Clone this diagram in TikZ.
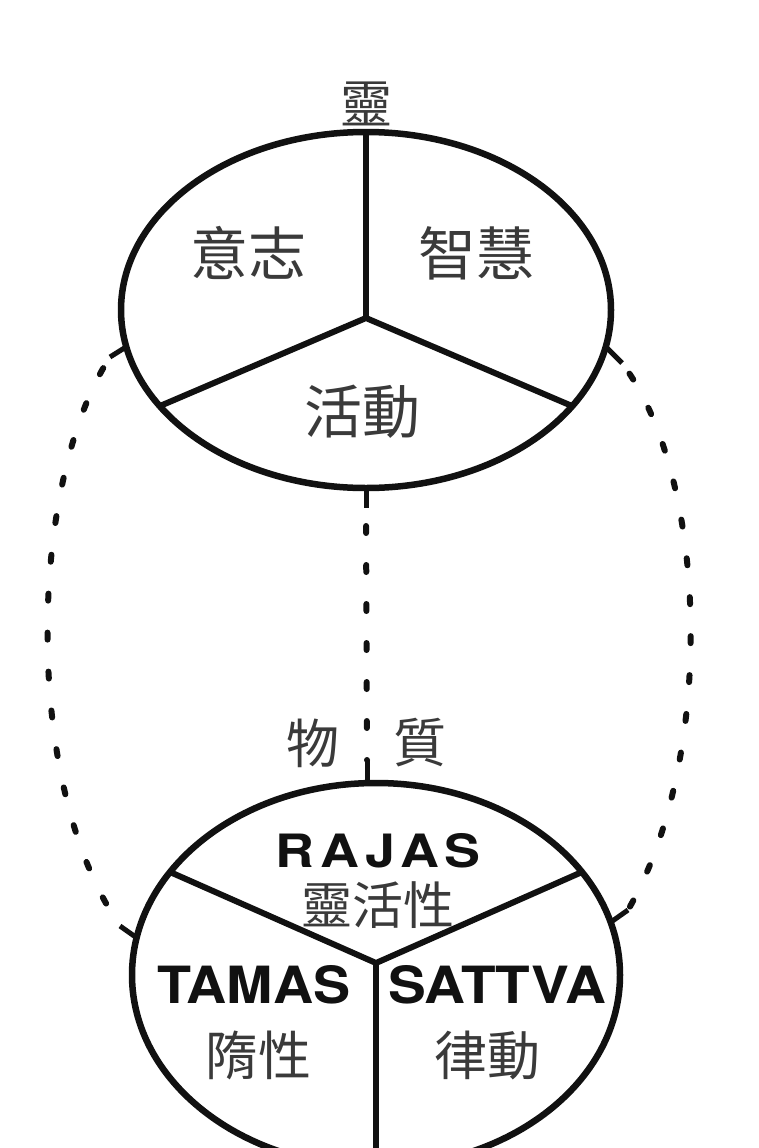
\documentclass[tikz,border=0pt]{standalone}
\usepackage{fontspec}
\usepackage{graphicx}
\newfontfamily\cjk{Noto Sans CJK TC}
\newfontfamily\lat{TeX Gyre Heros}
\definecolor{ink}{HTML}{111111}
\definecolor{txt}{HTML}{3A3A3A}
\tikzset{
  rim/.style={line width=6.5pt, draw=ink},
  spoke/.style={line width=6pt, draw=ink},
  stub/.style={line width=5pt, draw=ink},
  dots/.style={line width=6pt, draw=ink, line cap=round, dash pattern=on 7pt off 32pt},
  cjkbig/.style={font=\cjk\fontsize{58pt}{60pt}\selectfont, text=txt, inner sep=0pt},
  cjksmall/.style={font=\cjk\fontsize{53pt}{55pt}\selectfont, text=txt, inner sep=0pt},
  latin/.style={text=ink, inner sep=0pt},
}
\begin{document}
\begin{tikzpicture}[x=1pt,y=-1pt]
\useasboundingbox (0,0) rectangle (758,1148);
\clip (0,0) rectangle (758,1148);
\fill[white] (0,0) rectangle (758,1148);

% ---- upper ellipse (spirit)
\coordinate (tc) at (366,310);
\coordinate (ttop) at (366,132);
\coordinate (thub) at (366,318);
\coordinate (tleft) at (160,406);
\coordinate (tright) at (572,406);
\coordinate (tbot) at (366,488);
\draw[rim] (tc) ellipse [x radius=245, y radius=178];
\draw[spoke] (ttop) -- (thub);
\draw[spoke] (tleft) -- (thub) -- (tright);

% ---- lower ellipse (matter)
\coordinate (bc) at (376,975);
\coordinate (btop) at (367,784);
\coordinate (bhub) at (376,963);
\coordinate (bleft) at (170,872);
\coordinate (bright) at (582,872);
\coordinate (bbot) at (376,1170);
\draw[rim] (bc) ellipse [x radius=244, y radius=192];
\draw[spoke] (bleft) -- (bhub) -- (bright);
\draw[spoke] (bhub) -- (bbot);

% ---- middle dotted connector
\coordinate (m1) at (366,508);
\coordinate (m2) at (367,760);
\draw[stub] (tbot) -- (m1);
\draw[dots, dash phase=21pt] (m1) -- (m2);
\draw[stub] (m2) -- (btop);

% ---- left dotted connector
\coordinate (la) at (126,347);
\coordinate (lb) at (110,357);
\coordinate (lc) at (120,926);
\coordinate (ld) at (137,938);
\draw[stub] (la) -- (lb);
\draw[dots, dash phase=26pt] (lb) .. controls (30,480) and (20,780) .. (lc);
\draw[stub] (lc) -- (ld);

% ---- right dotted connector
\coordinate (ra) at (606,347);
\coordinate (rb) at (622,363);
\coordinate (rc) at (628,910);
\coordinate (rd) at (611,922);
\draw[stub] (ra) -- (rb);
\draw[dots, dash phase=26pt] (rb) .. controls (710,480) and (715,760) .. (rc);
\draw[stub] (rc) -- (rd);

% ---- texts
\node[cjkbig, font=\cjk\fontsize{52pt}{54pt}\selectfont] (ling) at (366,104) {靈};
\node[cjkbig] (yizhi) at (248,253) {意志};
\node[cjkbig] (zhihui) at (476,253) {智慧};
\node[cjkbig] (huodong) at (362,412) {活動};
\node[cjksmall] (wu) at (313,743) {物};
\node[cjksmall] (zhi) at (420,743) {質};
\node[latin] (rajas) at (378,851) {\resizebox{205pt}{34pt}{\lat\bfseries R\kern0.12em A\kern0.1em J\kern0.1em A\kern0.1em S}};
\node[cjksmall, font=\cjk\fontsize{51pt}{53pt}\selectfont] (lhx) at (378,905) {靈活性};
\node[latin] (tamas) at (254,985) {\resizebox{193pt}{38pt}{\lat\bfseries TAMAS}};
\node[latin] (sattva) at (497,985) {\resizebox{218pt}{38pt}{\lat\bfseries SATTVA}};
\node[cjksmall] (duo) at (258,1055) {隋性};
\node[cjksmall] (lv) at (487,1055) {律動};
\end{tikzpicture}
\end{document}
